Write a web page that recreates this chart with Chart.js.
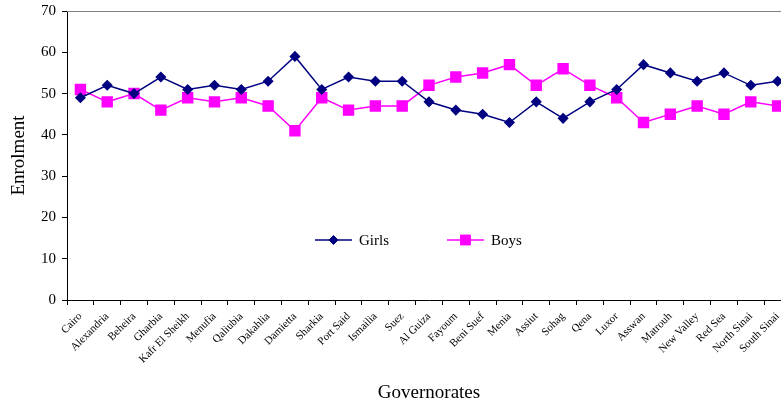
<!DOCTYPE html>
<html><head><meta charset="utf-8">
<script src="https://cdn.jsdelivr.net/npm/chart.js@4/dist/chart.umd.min.js"></script>
<style>html,body{margin:0;padding:0;background:#fff;overflow:hidden;width:781px;height:404px}</style>
</head><body>
<canvas id="c" width="800" height="404" style="display:block"></canvas>
<script>
const governorates = ["Cairo","Alexandria","Beheira","Gharbia","Kafr El Sheikh","Menufia","Qaliubia","Dakahlia","Damietta","Sharkia","Port Said","Ismailia","Suez","Al Guiza","Fayoum","Beni Suef","Menia","Assiut","Sohag","Qena","Luxor","Asswan","Matrouh","New Valley","Red Sea","North Sinai","South Sinai"];
const girls = [49,52,50,54,51,52,51,53,59,51,54,53,53,48,46,45,43,48,44,48,51,57,55,53,55,52,53];
const boys  = [51,48,50,46,49,48,49,47,41,49,46,47,47,52,54,55,57,52,56,52,49,43,45,47,45,48,47];
const yTicks = [0,10,20,30,40,50,60,70];

const serif = "'Liberation Serif','Times New Roman',serif";

const legendPlugin = {
  id: 'insideLegend',
  afterDraw(chart) {
    const ctx = chart.ctx;
    const y = 240;
    const items = [
      {x: 315, label: 'Girls', ds: chart.data.datasets[0]},
      {x: 447, label: 'Boys', ds: chart.data.datasets[1]}
    ];
    ctx.save();
    items.forEach(it => {
      ctx.strokeStyle = it.ds.borderColor;
      ctx.lineWidth = 1.5;
      ctx.beginPath(); ctx.moveTo(it.x, y); ctx.lineTo(it.x + 37, y); ctx.stroke();
      ctx.fillStyle = it.ds.pointBackgroundColor;
      ctx.strokeStyle = it.ds.pointBorderColor;
      ctx.lineWidth = 1;
      Chart.helpers.drawPoint(ctx, {pointStyle: it.ds.pointStyle, radius: it.ds.pointRadius, borderWidth: 1, rotation: 0}, it.x + 18.5, y);
      ctx.fillStyle = '#000';
      ctx.font = "15px " + serif;
      ctx.textBaseline = 'middle';
      ctx.textAlign = 'left';
      ctx.fillText(it.label, it.x + 44, y + 1);
    });
    ctx.restore();
  }
};

const topBorder = {
  id: 'topBorder',
  beforeDatasetsDraw(chart) {
    const {ctx, chartArea} = chart;
    ctx.save();
    ctx.strokeStyle = '#808080';
    ctx.lineWidth = 1;
    ctx.beginPath();
    ctx.moveTo(chartArea.left, chartArea.top + 0.5);
    ctx.lineTo(chartArea.right, chartArea.top + 0.5);
    ctx.stroke();
    ctx.restore();
  }
};

new Chart(document.getElementById('c'), {
  type: 'line',
  data: {
    labels: governorates,
    datasets: [
      {label: 'Girls', data: girls, borderColor: '#000080', backgroundColor: '#000080',
       pointBackgroundColor: '#000080', pointBorderColor: '#000080',
       pointStyle: 'rectRot', pointRadius: 4.5, borderWidth: 1.5, tension: 0},
      {label: 'Boys', data: boys, borderColor: '#FF00FF', backgroundColor: '#FF00FF',
       pointBackgroundColor: '#FF00FF', pointBorderColor: '#FF00FF',
       pointStyle: 'rect', pointRadius: 7, borderWidth: 1.5, tension: 0}
    ]
  },
  options: {
    responsive: false,
    animation: false,
    layout: {padding: {top: 11, right: 9, left: 0, bottom: 0}},
    plugins: {legend: {display: false}, tooltip: {enabled: false}},
    scales: {
      x: {
        type: 'category',
        offset: true,
        grid: {drawOnChartArea: false, drawTicks: true, tickLength: 5, color: '#000', offset: true},
        border: {color: '#000', width: 1},
        ticks: {color: '#000', font: {family: serif, size: 11}, maxRotation: 45, minRotation: 45, autoSkip: false, padding: 5},
        title: {display: true, text: 'Governorates', color: '#000', font: {family: serif, size: 19}, padding: {top: 0, bottom: 0}},
        afterFit(s) { s.height = 104; s.paddingLeft = 0; s.paddingRight = 0; }
      },
      y: {
        min: 0, max: 70,
        afterBuildTicks(s) { s.ticks = yTicks.map(v => ({value: v})); },
        grid: {drawOnChartArea: false, drawTicks: true, tickLength: 5, color: '#000'},
        border: {color: '#000', width: 1},
        ticks: {color: '#000', font: {family: serif, size: 15}, padding: 6},
        title: {display: true, text: 'Enrolment', color: '#000', font: {family: serif, size: 19}, padding: {top: 8, bottom: 0}},
        afterFit(s) { s.width = 67; s.paddingTop = 0; s.paddingBottom = 0; }
      }
    }
  },
  plugins: [topBorder, legendPlugin]
});
</script>
</body></html>
